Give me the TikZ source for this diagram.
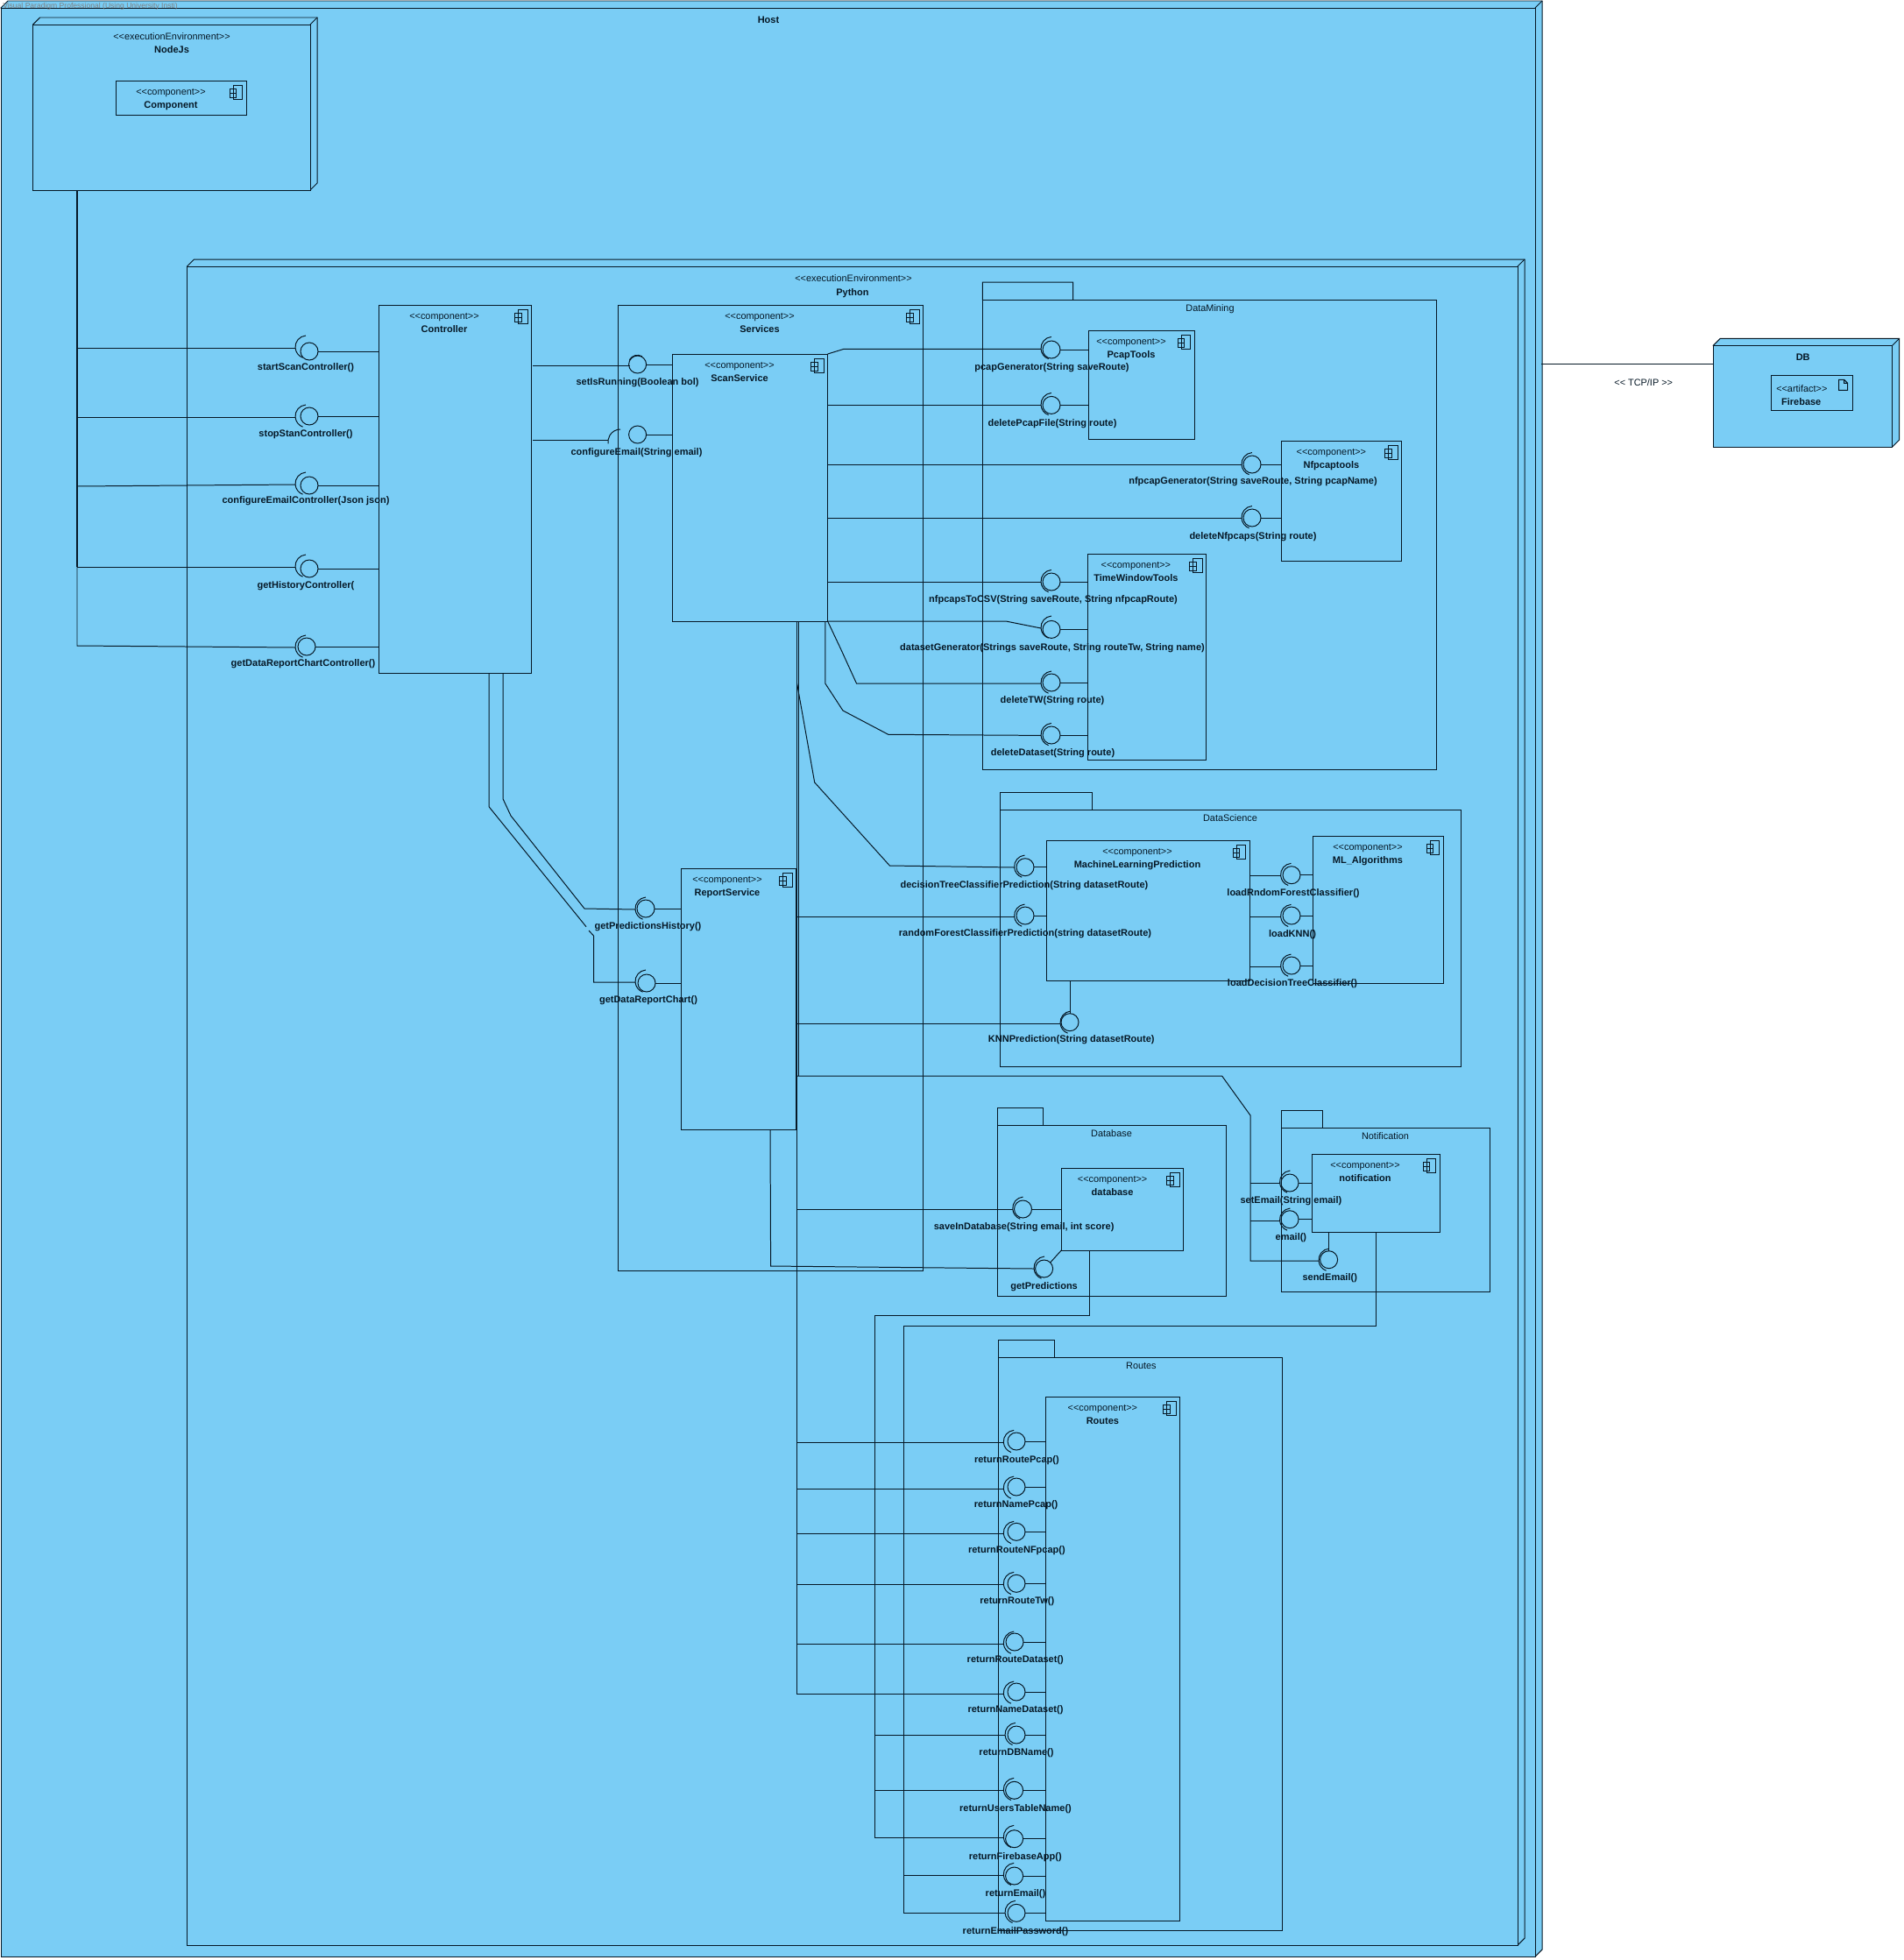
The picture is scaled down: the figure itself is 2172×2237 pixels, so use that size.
\documentclass[tikz,border=0pt]{standalone}
\usepackage{fontspec}
\setmainfont{Liberation Sans}
\definecolor{hostfill}{HTML}{7ACDF5}
\definecolor{ink}{HTML}{061826}
\newcommand{\llg}{<\kern0pt<}
\newcommand{\rrg}{>\kern0pt>}
\tikzset{
  boxn/.style={draw=ink,rectangle,inner sep=0pt,outer sep=0pt},
  ball/.style={draw=ink,circle,inner sep=0pt,outer sep=0pt,minimum size=0.6cm},
  lab/.style={inner sep=0pt,text=ink,text height=9.2pt,text depth=2pt,font=\fontsize{9.4pt}{11pt}\selectfont\bfseries},
  stereo/.style={inner sep=0pt,text=ink,text height=9.2pt,text depth=2pt,font=\fontsize{9.3pt}{11pt}\selectfont},
  conn/.style={draw=ink},
  heavy/.style={draw=ink,line width=1.9pt}
}
% name x1 y1 x2 y2 textcentre title
\newcommand{\cmpbox}[7]{%
  \node[boxn,minimum width={(#4-#2)*0.03cm},minimum height={(#5-#3)*0.03cm}] (#1) at ({(#2+#4)/2},{(#3+#5)/2}) {};
  \node[stereo] (#1-st) at (#6,#3+12) {\llg component\rrg};
  \node[lab] (#1-ti) at (#6,#3+27) {#7};
  \begin{scope}[shift={(#1.north east)}]
    \draw[conn] (-15,5) rectangle (-4.5,21);
    \draw[conn] (-19,9) rectangle (-11.5,14);
    \draw[conn] (-19,14) rectangle (-11.5,19);
  \end{scope}
}
% name x1 tabtop tabright bodytop x2 y2 label-x label
\newcommand{\pkgbox}[9]{%
  \node[boxn,minimum width={(#6-#2)*0.03cm},minimum height={(#7-#5)*0.03cm}] (#1) at ({(#2+#6)/2},{(#5+#7)/2}) {};
  \draw[conn] (#1.north west) -- (#2,#3) -- (#4,#3) -- (#4,#5);
  \node[stereo] (#1-ti) at (#8,#5+9) {#9};
}
% deployment node: name x1 y1 x2 y2 d
\newcommand{\depnode}[6]{%
  \draw[conn,fill=hostfill] (#2,#3) -- (#2+#6,#3-#6) -- (#4+#6,#3-#6) -- (#4+#6,#5-#6) -- (#4,#5) -- cycle;
  \node[boxn,fill=hostfill,minimum width={(#4-#2)*0.03cm},minimum height={(#5-#3)*0.03cm}] (#1) at ({(#2+#4)/2},{(#3+#5)/2}) {};
  \draw[conn] (#1.north east) -- (#4+#6,#3-#6);
}
% name cx cy socketleft sockety labelx labely text
\newcommand{\ifc}[8]{%
  \node[ball] (#1) at (#2,#3) {};
  \draw[conn] ([shift={(#4+13,#5-1)}]95:0.39cm) arc[start angle=95,end angle=250,radius=0.39cm];
  \coordinate (#1-s) at (#4,#5);
  \node[lab] (#1-l) at (#6,#7) {#8};
}
\newcommand{\stub}[2]{\draw[conn] (#1.east) -- (#1.east -| #2.west);}
\begin{document}
\begin{tikzpicture}[x=0.03cm,y=-0.03cm,line width=0.85pt]
\useasboundingbox (0,0) rectangle (2172,2237);
\fill[white] (0,0) rectangle (2172,2237);
% ---- deployment nodes
\depnode{host}{1}{9}{1752}{2233}{8}
\node[lab] (host-ti) at (877,22) {Host};
\node[inner sep=0pt,text=gray,font=\fontsize{7.3pt}{8pt}\selectfont] (wm) at (103,7) {Visual Paradigm Professional (Using University Insti)};
\depnode{nodejs}{37.6}{28}{354}{217}{8}
\node[stereo] (nodejs-st) at (196,41) {\llg executionEnvironment\rrg};
\node[lab] (nodejs-ti) at (196,56) {NodeJs};
\cmpbox{cmp}{132}{92}{281}{131}{195}{Component}
\depnode{python}{213.5}{304}{1732}{2220}{8}
\node[stereo] (python-st) at (974,317) {\llg executionEnvironment\rrg};
\node[lab] (python-ti) at (973,333) {Python};
\depnode{db}{1955.3}{394.3}{2159.7}{510}{8}
\node[lab] (db-ti) at (2057.7,407) {DB};
\node[boxn,minimum width=93.4*0.03cm,minimum height=40*0.03cm] (fb) at (2068,448.3) {};
\node[stereo] (fb-st) at (2056.3,443.3) {\llg artifact\rrg};
\node[lab] (fb-ti) at (2055.7,458) {Firebase};
\draw[conn] (2098.7,433.3) -- (2104.7,433.3) -- (2108.7,437.3) -- (2108.7,445.3) -- (2098.7,445.3) -- cycle (2104.7,433.3) -- (2104.7,437.3) -- (2108.7,437.3);
\coordinate (tcpl) at (1759.3,415.3);
\draw[conn] (tcpl) -- (tcpl -| db.west);
\node[stereo] (tcp) at (1875.7,436) {\llg{} TCP/IP \rrg};
% ---- components
\cmpbox{ctrl}{432.5}{348}{606.5}{768}{507}{Controller}
\cmpbox{services}{705}{348}{1053.6}{1450}{867}{Services}
\cmpbox{scan}{767}{404}{944.6}{709}{844}{ScanService}
\cmpbox{report}{777.5}{991}{908.8}{1289}{830}{ReportService}
\pkgbox{dm}{1121.4}{322}{1224.5}{342.6}{1639}{878.6}{1381}{DataMining}
\cmpbox{pcap}{1242}{377}{1363}{501}{1291}{PcapTools}
\cmpbox{nfp}{1462}{503}{1599.5}{640}{1519.4}{Nfpcaptools}
\cmpbox{tw}{1241.3}{632.6}{1376.5}{867.5}{1296.4}{TimeWindowTools}
\pkgbox{ds}{1141.5}{904}{1246.4}{924.3}{1667.4}{1217}{1404}{DataScience}
\cmpbox{mlp}{1194.6}{959}{1426}{1119}{1298}{MachineLearningPrediction}
\cmpbox{mla}{1498.7}{954.3}{1647.3}{1122}{1561}{ML\_Algorithms}
\pkgbox{dbp}{1138.3}{1264}{1190.5}{1284}{1399.3}{1479}{1268.5}{Database}
\cmpbox{dbc}{1211.3}{1333}{1350.5}{1427}{1269.6}{database}
\pkgbox{ntf}{1462}{1267.3}{1509}{1287.3}{1700.6}{1474.3}{1581}{Notification}
\cmpbox{notif}{1497.5}{1317.3}{1643.4}{1406.3}{1558}{notification}
\pkgbox{rt}{1139.6}{1529.3}{1203.7}{1549.3}{1463.7}{2203.3}{1302.4}{Routes}
\cmpbox{rtc}{1193.5}{1594.3}{1346.5}{2192.3}{1258.4}{Routes}
% ---- interfaces of Controller
\ifc{iStart}{353}{401}{337}{397}{349}{418}{startScanController()}
\ifc{iStop}{353}{475}{337}{476}{349}{494}{stopStanController()}
\ifc{iConf}{353}{554}{337}{553}{349}{570}{configureEmailController(Json json)}
\ifc{iHist}{353}{649}{337}{647}{349}{667}{getHistoryController(}
\ifc{iData}{350}{738}{337}{739}{346}{756}{getDataReportChartController()}
\coordinate (njt) at (88,217);
\coordinate (njm) at (88,647);
\coordinate (njb) at (88,737);
\draw[heavy] (njt) -- (njm);
\draw[conn] (njm) -- (njb) -- (iData-s);
\draw[conn] (njt |- iStart-s) -- (iStart-s);
\draw[conn] (njt |- iStop-s) -- (iStop-s);
\draw[conn] (88,555) -- (iConf-s);
\draw[conn] (njm) -- (iHist-s);
\stub{iStart}{ctrl}\stub{iStop}{ctrl}\stub{iConf}{ctrl}\stub{iHist}{ctrl}\stub{iData}{ctrl}
% ---- interfaces of ScanService
\node[ball] (iRun) at (727.6,416) {};
\coordinate (iRun-s) at (719,417);
\draw[conn] ([shift={(727.6,416)}]60:0.32cm) arc[start angle=60,end angle=150,radius=0.32cm];
\node[lab] (iRun-l) at (727.6,435) {setIsRunning(Boolean bol)};
\coordinate (ctrlR1) at (608,417);
\draw[conn] (ctrlR1) -- (iRun-s);
\stub{iRun}{scan}
\node[ball] (iMail) at (727.6,496) {};
\coordinate (iMail-s) at (694,502);
\draw[conn] ([shift={(708,504)}]90:0.42cm) arc[start angle=90,end angle=190,radius=0.42cm];
\node[lab] (iMail-l) at (726.5,515) {configureEmail(String email)};
\coordinate (ctrlR2) at (608,502);
\draw[conn] (ctrlR2) -- (iMail-s);
\stub{iMail}{scan}
% ---- Controller to ReportService
\ifc{iPred}{737}{1037}{725}{1038}{739.5}{1056}{getPredictionsHistory()}
\ifc{iChart}{738}{1122}{725}{1121}{740}{1140}{getDataReportChart()}
\stub{iPred}{report}\stub{iChart}{report}
\coordinate (cb1) at (558,768);
\coordinate (cb2) at (574,768);
\draw[conn] (cb2) -- (574,911.7) -- (583,931) -- (667,1037) -- (iPred-s);
\draw[conn] (cb1) -- (558,920.7) -- (669,1057.7);
\draw[conn] (672,1062) -- (677.5,1068) -- (677.5,1121) -- (iChart-s);
% ---- DataMining interfaces
\ifc{iPg}{1200}{399}{1188}{398.4}{1200.5}{418}{pcapGenerator(String saveRoute)}
\ifc{iPd}{1200}{462.4}{1188}{462.4}{1201}{482.4}{deletePcapFile(String route)}
\ifc{iNg}{1429}{530}{1417}{530.5}{1430}{548.6}{nfpcapGenerator(String saveRoute, String pcapName)}
\ifc{iNd}{1429}{591}{1417}{591.5}{1430}{611.5}{deleteNfpcaps(String route)}
\ifc{iCsv}{1200}{664}{1188}{664.4}{1202}{683.3}{nfpcapsToCSV(String saveRoute, String nfpcapRoute)}
\ifc{iDg}{1200}{718.4}{1188}{717}{1201}{738.4}{datasetGenerator(Strings saveRoute, String routeTw, String name)}
\ifc{iDt}{1200}{779}{1188}{780}{1201}{798}{deleteTW(String route)}
\ifc{iDd}{1200}{839}{1188}{839.4}{1201.5}{858}{deleteDataset(String route)}
\stub{iPg}{pcap}\stub{iPd}{pcap}\stub{iNg}{nfp}\stub{iNd}{nfp}
\stub{iCsv}{tw}\stub{iDg}{tw}\stub{iDt}{tw}\stub{iDd}{tw}
\draw[conn] (scan.north east) -- (962.8,398.4) -- (iPg-s);
\draw[conn] (scan.east |- iPd-s) -- (iPd-s);
\draw[conn] (scan.east |- iNg-s) -- (iNg-s);
\draw[conn] (scan.east |- iNd-s) -- (iNd-s);
\draw[conn] (scan.east |- iCsv-s) -- (iCsv-s);
\draw[conn] (scan.south east) -- (1148,709) -- (iDg-s);
\draw[conn] (scan.south east) -- (959.7,741) -- (977.5,780) -- (iDt-s);
\coordinate (sb3) at (941.8,709);
\draw[conn] (sb3) -- (941.8,780) -- (962,811) -- (1013.8,838.3) -- (iDd-s);
% ---- DataScience interfaces
\ifc{iDtc}{1170}{989.7}{1157.6}{990}{1169}{1009}{decisionTreeClassifierPrediction(String datasetRoute)}
\ifc{iRfc}{1170}{1045}{1157.6}{1046}{1170}{1064}{randomForestClassifierPrediction(string datasetRoute)}
\ifc{iKnn}{1221}{1166.7}{1210}{1168}{1222.8}{1185}{KNNPrediction(String datasetRoute)}
\stub{iDtc}{mlp}\stub{iRfc}{mlp}
\draw[conn] (iKnn.north) -- (iKnn.north |- mlp.south);
\ifc{iLr}{1474}{998.7}{1461.6}{999.3}{1476}{1018}{loadRndomForestClassifier()}
\ifc{iLk}{1474}{1045}{1461.6}{1046.3}{1475}{1065}{loadKNN()}
\ifc{iLd}{1474}{1102}{1461.6}{1103}{1475}{1121}{loadDecisionTreeClassifier()}
\stub{iLr}{mla}\stub{iLk}{mla}\stub{iLd}{mla}
\draw[conn] (mlp.east |- iLr-s) -- (iLr-s);
\draw[conn] (mlp.east |- iLk-s) -- (iLk-s);
\draw[conn] (mlp.east |- iLd-s) -- (iLd-s);
% ---- Database interfaces
\ifc{iSave}{1167.5}{1380}{1155.7}{1380}{1168.6}{1399}{saveInDatabase(String email, int score)}
\ifc{iGet}{1191.6}{1448}{1180}{1448}{1191.6}{1467}{getPredictions}
\stub{iSave}{dbc}
\draw[conn] (iGet.north east) -- (dbc.south west);
\coordinate (rb) at (879,1289);
\draw[conn] (rb) -- (879.6,1445) -- (iGet-s);
% ---- Notification interfaces
\ifc{iSet}{1472}{1350}{1460.5}{1350}{1473.4}{1369}{setEmail(String email)}
\ifc{iEm}{1472}{1391.7}{1460.5}{1393}{1473.4}{1411}{email()}
\ifc{iSend}{1516.6}{1437.7}{1505}{1439}{1517.7}{1457}{sendEmail()}
\stub{iSet}{notif}\stub{iEm}{notif}
\draw[conn] (iSend.north) -- (iSend.north |- notif.south);
% ---- Routes interfaces
\ifc{iR1}{1160}{1645}{1145.3}{1646.3}{1160.4}{1665.3}{returnRoutePcap()}
\ifc{iR2}{1160}{1697}{1145.3}{1699}{1159.6}{1716.3}{returnNamePcap()}
\ifc{iR3}{1160}{1748.3}{1145.3}{1750.3}{1160.4}{1768.3}{returnRouteNFpcap()}
\ifc{iR4}{1160}{1807.3}{1145.3}{1808.3}{1160.8}{1826.3}{returnRouteTw()}
\ifc{iR5}{1158}{1874}{1145.3}{1876}{1158.8}{1893.3}{returnRouteDataset()}
\ifc{iR6}{1160}{1931}{1145.3}{1933}{1159}{1950.3}{returnNameDataset()}
\ifc{iR7}{1160}{1980}{1147}{1980.3}{1160}{1999.3}{returnDBName()}
\ifc{iR8}{1157.6}{2043.3}{1145.3}{2043.3}{1159}{2063.3}{returnUsersTableName()}
\ifc{iR9}{1157.6}{2098.7}{1145.3}{2097.3}{1158.8}{2118.3}{returnFirebaseApp()}
\ifc{iR10}{1157.6}{2141}{1145.3}{2140.3}{1159}{2160.3}{returnEmail()}
\ifc{iR11}{1160}{2183.3}{1147}{2183.3}{1159}{2203.3}{returnEmailPassword()}
\stub{iR1}{rtc}\stub{iR2}{rtc}\stub{iR3}{rtc}\stub{iR4}{rtc}\stub{iR5}{rtc}\stub{iR6}{rtc}
\stub{iR7}{rtc}\stub{iR8}{rtc}\stub{iR9}{rtc}\stub{iR10}{rtc}\stub{iR11}{rtc}
% ---- main trunk from ScanService
\coordinate (tr) at (909.6,709);
\coordinate (tr2) at (911.6,709);
\draw[conn] (tr) -- (tr |- iR6-s) -- (iR6-s);
\draw[conn] (tr2) -- (911.6,1228);
\foreach \i in {iR1,iR2,iR3,iR4,iR5}{\draw[conn] (tr |- \i-s) -- (\i-s);}
\draw[conn] (tr |- iRfc-s) -- (iRfc-s);
\draw[conn] (tr |- iKnn-s) -- (iKnn-s);
\draw[conn] (tr |- iSave-s) -- (iSave-s);
\draw[conn] (909.6,780) -- (929.7,893) -- (1015.4,988) -- (iDtc-s);
% ---- notification branch
\draw[conn] (909.6,1228) -- (1394.6,1228) -- (1427,1273) -- (1427,1439) -- (iSend-s);
\draw[conn] (1427,1350) -- (iSet-s);
\draw[conn] (1427,1393) -- (iEm-s);
% ---- Database to Routes
\coordinate (dbb) at (1243.3,1427);
\draw[conn] (dbb) -- (1243.3,1501) -- (998.5,1501) -- (998.5,2097.3) -- (iR9-s);
\draw[conn] (998.5,1980.3) -- (iR7-s);
\draw[conn] (998.5,2043.3) -- (iR8-s);
% ---- Notification to Routes
\coordinate (ntb) at (1570.4,1406.3);
\draw[conn] (ntb) -- (1570.4,1513.3) -- (1031.4,1513.3) -- (1031.4,2183.3) -- (iR11-s);
\draw[conn] (1031.4,2140.3) -- (iR10-s);
\end{tikzpicture}
\end{document}
